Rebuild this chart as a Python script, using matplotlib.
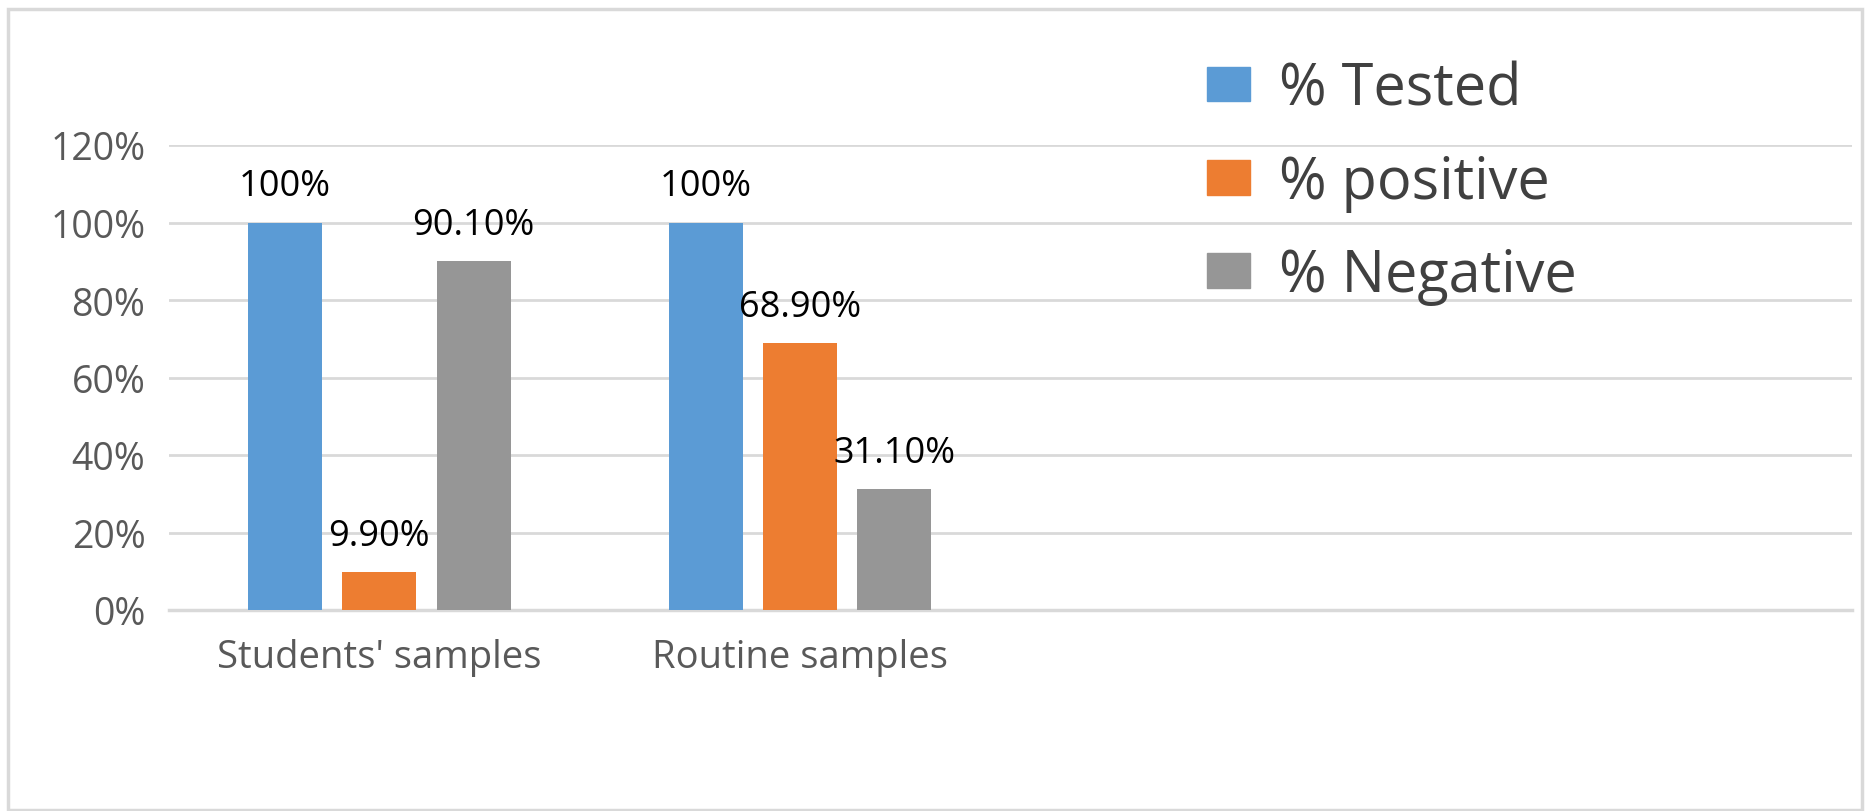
import matplotlib
matplotlib.use("Agg")
import matplotlib.pyplot as plt
import numpy as np
from matplotlib.patches import Rectangle, Patch

plt.rcParams['font.family'] = ['Open Sans', 'DejaVu Sans']

# data
categories = ["Students' samples", "Routine samples"]
series = ["% Tested", "% positive", "% Negative"]
tested = [100.0, 100.0]
positive = [9.9, 68.9]
negative = [90.1, 31.1]
labels_tested = ["100%", "100%"]
labels_positive = ["9.90%", "68.90%"]
labels_negative = ["90.10%", "31.10%"]
colors = ["#5b9bd5", "#ed7d31", "#969696"]

W, H = 1871, 812
fig = plt.figure(figsize=(W / 100, H / 100), dpi=100)
fig.patch.set_facecolor('white')

# outer chart border
fig.patches.append(Rectangle((8 / W, 1 / H), (1862 - 8) / W, (802 - 1) / H,
                             transform=fig.transFigure, fill=False,
                             edgecolor='#d9d9d9', lw=2.5))

ax = fig.add_axes([169 / W, 201 / H, (1852 - 169) / W, (666 - 201) / H])

x = np.arange(len(categories))
bw = 0.176
off = 0.224
all_vals = [tested, positive, negative]
all_labels = [labels_tested, labels_positive, labels_negative]
for i, (vals, labs) in enumerate(zip(all_vals, all_labels)):
    bars = ax.bar(x + (i - 1) * off, vals, bw, color=colors[i], zorder=3)
    for b, lab in zip(bars, labs):
        ax.annotate(lab, (b.get_x() + b.get_width() / 2, b.get_height()),
                    xytext=(0, 13), textcoords='offset points',
                    ha='center', va='bottom', fontsize=26, color='black')

ax.set_xlim(-0.5, 3.5)
ax.set_ylim(0, 120)
ax.set_yticks(np.arange(0, 121, 20))
ax.set_yticklabels([f"{v}%" for v in range(0, 121, 20)])
ax.set_xticks(x)
ax.set_xticklabels(categories)
ax.tick_params(axis='y', length=0, pad=17, labelsize=27, labelcolor='#595959')
ax.tick_params(axis='x', length=0, pad=20, labelsize=27.5, labelcolor='#595959')
ax.grid(axis='y', color='#d9d9d9', lw=2, zorder=0)
for s in ['top', 'right', 'left']:
    ax.spines[s].set_visible(False)
ax.spines['bottom'].set_color('#d9d9d9')
ax.spines['bottom'].set_linewidth(2.5)

handles = [Patch(color=c) for c in colors]
fig.legend(handles, series, loc='upper left', bbox_to_anchor=(1207 / W, 1 - 61 / H),
           frameon=False, fontsize=41.5, labelcolor='#404040',
           handlelength=0.75, handleheight=0.55, handletextpad=0.5,
           labelspacing=0.6, borderpad=0, borderaxespad=0)

fig.savefig('out.png', dpi=100, facecolor='white')
